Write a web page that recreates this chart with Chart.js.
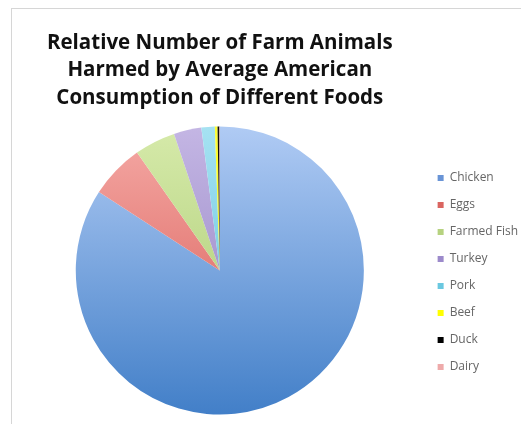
<!DOCTYPE html>
<html>
<head>
<meta charset="utf-8">
<script src="https://cdn.jsdelivr.net/npm/chart.js@4.4.1/dist/chart.umd.min.js"></script>
<style>
  html, body {
    margin: 0;
    padding: 0;
    background: #ffffff;
    overflow: hidden;
    width: 521px;
    height: 424px;
  }
  #frame {
    position: absolute;
    left: 11px;
    top: 8px;
    width: 600px;
    height: 500px;
    border: 1px solid #d6d6d6;
  }
  #wrap {
    position: absolute;
    left: 0;
    top: 0;
    width: 528px;
    height: 424px;
  }
</style>
</head>
<body>
<div id="frame"></div>
<div id="wrap"><canvas id="pieChart"></canvas></div>
<script>
const labels = ["Chicken", "Eggs", "Farmed Fish", "Turkey", "Pork", "Beef", "Duck", "Dairy"];
const values = [84.2, 6.1, 4.6, 3.1, 1.5, 0.3, 0.2, 0.05];
const topColors = ["#b0cbf4", "#f5aaa6", "#d6eaaa", "#c4b6e4", "#a6e2f2", "#ffff33", "#111111", "#f4b8b8"];
const bottomColors = ["#427fc8", "#d5524c", "#a4c66a", "#8c7bbd", "#56bcd8", "#eeee00", "#000000", "#e49c9c"];
const legendColors = ["#6994d6", "#da6560", "#b6d27f", "#9c8acb", "#6ac8e0", "#ffff00", "#000000", "#eeaaaa"];

function sliceColor(context) {
  const i = context.dataIndex;
  const area = context.chart.chartArea;
  if (!area) return legendColors[i];
  const g = context.chart.ctx.createLinearGradient(0, area.top, 0, area.bottom);
  g.addColorStop(0, topColors[i]);
  g.addColorStop(1, bottomColors[i]);
  return g;
}

const pieCtx = document.getElementById("pieChart").getContext("2d");
new Chart(pieCtx, {
  type: "pie",
  data: {
    labels: labels,
    datasets: [
      {
        data: values,
        backgroundColor: sliceColor,
        borderWidth: 0,
      },
    ],
  },
  options: {
    responsive: true,
    maintainAspectRatio: false,
    animation: false,
    layout: {
      padding: { left: 17, right: 0, top: 0, bottom: 9.5 },
    },
    plugins: {
      tooltip: { enabled: false },
      title: {
        display: true,
        fullSize: false,
        text: [
          "Relative Number of Farm Animals",
          "Harmed by Average American",
          "Consumption of Different Foods",
        ],
        color: "#111111",
        font: { family: "Open Sans", size: 20.5, weight: "bold", lineHeight: 1.34 },
        padding: { top: 29, bottom: 15 },
      },
      legend: {
        position: "right",
        fullSize: false,
        title: {
          display: true,
          text: "",
          font: { size: 4, lineHeight: 1 },
          padding: 0,
        },
        labels: {
          boxWidth: 6,
          boxHeight: 6,
          padding: 15,
          color: "#595959",
          font: { family: "Open Sans", size: 12 },
          generateLabels: function (chart) {
            return labels.map((text, i) => ({
              text: text,
              fillStyle: legendColors[i],
              strokeStyle: legendColors[i],
              lineWidth: 0,
              index: i,
            }));
          },
        },
      },
    },
  },
});
</script>
</body>
</html>
